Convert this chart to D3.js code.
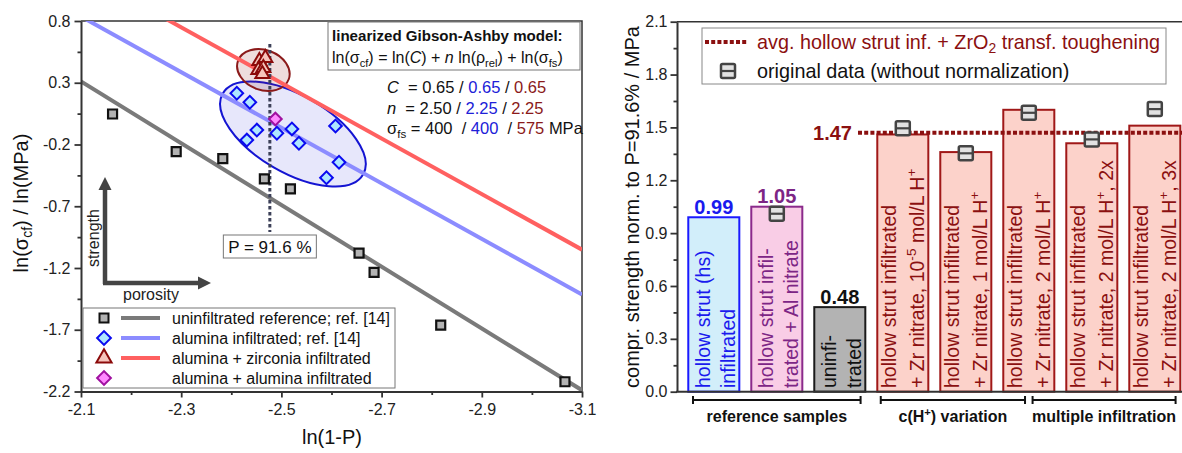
<!DOCTYPE html>
<html>
<head>
<meta charset="utf-8">
<script src="https://cdn.jsdelivr.net/npm/d3@7"></script>
<style>
  body { margin: 0; background: #fff; }
  svg { font-family: Arial, "Liberation Sans", sans-serif; }
  text { white-space: pre; }
</style>
</head>
<body>
<svg id="chart" width="1182" height="453"></svg>
<script>
// ---------- left panel: ln(1-P) vs ln(sigma_cf) ----------
var uninfX = [-2.163, -2.290, -2.383, -2.466, -2.518, -2.655, -2.685, -2.818, -3.066];
var uninfY = [0.047, -0.258, -0.315, -0.479, -0.560, -1.079, -1.235, -1.662, -2.121];
var aluX = [-2.411, -2.437, -2.451, -2.431, -2.491, -2.521, -2.535, -2.608, -2.615, -2.590];
var aluY = [0.215, 0.142, -0.083, -0.164, -0.109, -0.074, -0.190, -0.050, -0.344, -0.469];
var zrX = [-2.456, -2.468, -2.454, -2.464, -2.462];
var zrY = [0.476, 0.500, 0.403, 0.419, 0.371];
var alalX = [-2.488];
var alalY = [0.006];

// linearized Gibson-Ashby model parameters (grey / blue / red)
var modelC = [0.65, 0.65, 0.65];
var modelN = [2.50, 2.25, 2.25];
var modelSfs = [400, 400, 575];
var porosity = 0.916;

// cluster ellipses (centre in data units): alumina, zirconia
var ellCx = [-2.523, -2.464];
var ellCy = [-0.115, 0.403];

var legendNames = ['uninfiltrated reference; ref. [14]', 'alumina infiltrated; ref. [14]',
                   'alumina + zirconia infiltrated', 'alumina + alumina infiltrated'];

var xMajorL = [-2.1, -2.3, -2.5, -2.7, -2.9, -3.1];
var xMinorL = [-2.2, -2.4, -2.6, -2.8, -3.0];
var yMajorL = [0.8, 0.3, -0.2, -0.7, -1.2, -1.7, -2.2];
var yMinorL = [0.55, 0.05, -0.45, -0.95, -1.45, -1.95];

// ---------- right panel: normalized strength ----------
var barLine1 = ['hollow strut (hs)', 'hollow strut infil-', 'uninfi-',
  'hollow strut infiltrated', 'hollow strut infiltrated', 'hollow strut infiltrated',
  'hollow strut infiltrated', 'hollow strut infiltrated'];
var barLine2 = ['infiltrated', 'trated + Al nitrate', 'trated',
  '+ Zr nitrate, 10^{-5} mol/L H^{+}', '+ Zr nitrate, 1 mol/L H^{+}', '+ Zr nitrate, 2 mol/L H^{+}',
  '+ Zr nitrate, 2 mol/L H^{+}, 2x', '+ Zr nitrate, 2 mol/L H^{+}, 3x'];
var barValues = [0.99, 1.05, 0.48, 1.46, 1.36, 1.60, 1.41, 1.51];
var barValueShown = [true, true, true, false, false, false, false, false];
var origValues = [null, 1.01, null, 1.495, 1.353, 1.583, 1.432, 1.604];
var avgValue = 1.47;
var yMajorR = [0, 0.3, 0.6, 0.9, 1.2, 1.5, 1.8, 2.1];
var yMinorR = [0.15, 0.45, 0.75, 1.05, 1.35, 1.65, 1.95];
var groupNames = ['reference samples', 'c(H^{+}) variation', 'multiple infiltration'];
var groupFrom = [-0.33, 2.65, 5.06];
var groupTo = [2.33, 4.94, 7.33];

// ---------- styles ----------
var lineColours = ['#7a7a7a', '#8c8cff', '#ff6060'];
var barStroke = ['#1a1aff', '#8b2a8b', '#1a1a1a', '#a01818', '#a01818', '#a01818', '#a01818', '#a01818'];
var barFill = ['#d2eefa', '#f9cde6', '#b3b3b3', '#fcd2ca', '#fcd2ca', '#fcd2ca', '#fcd2ca', '#fcd2ca'];
var barText = ['#1a1aee', '#7d2585', '#111', '#8b1010', '#8b1010', '#8b1010', '#8b1010', '#8b1010'];
var darkRed = '#8b1010';

// text with ^{sup}, _{sub} and *italic*
function rich(t, str, fs) {
  var shift = 0;
  str.split(/(\^\{[^}]*\}|_\{[^}]*\}|\*[^*]*\*)/).filter(s => s.length).forEach(s => {
    var txt = s, size = fs, target = 0, ital = null;
    if (s.startsWith('^{')) { txt = s.slice(2, -1); size = fs * 0.7; target = -fs * 0.38; }
    else if (s.startsWith('_{')) { txt = s.slice(2, -1); size = fs * 0.7; target = fs * 0.22; }
    else if (s.startsWith('*')) { txt = s.slice(1, -1); ital = 'italic'; }
    t.append('tspan').attr('font-size', size).attr('dy', target - shift)
      .attr('font-style', ital).text(txt);
    shift = target;
  });
  return t;
}

function styleAxis(g, fs) {
  g.select('.domain').attr('stroke', '#333').attr('stroke-width', 2);
  g.selectAll('.tick line').attr('stroke', '#333').attr('stroke-width', 1.8);
  g.selectAll('.tick text').attr('font-size', fs).attr('fill', '#222')
    .attr('font-family', 'Arial, "Liberation Sans", sans-serif');
}

var svg = d3.select('#chart');
svg.append('rect').attr('width', 1182).attr('height', 453).attr('fill', '#fff');

// ================= LEFT PANEL =================
var xL = d3.scaleLinear().domain([-2.1, -3.1]).range([81, 582]);
var yL = d3.scaleLinear().domain([-2.2, 0.8]).range([391.5, 21]);
var left = svg.append('g');

left.append('clipPath').attr('id', 'clipL').append('rect')
  .attr('x', 81).attr('y', 21).attr('width', 501).attr('height', 370.5);

// frame top/right
left.append('path').attr('d', `M${xL(-2.1)},${yL(0.8)}H${xL(-3.1)}V${yL(-2.2)}`)
  .attr('fill', 'none').attr('stroke', '#333').attr('stroke-width', 1.5);

// ellipses around clusters
var ellRx = [81, 27], ellRy = [38.5, 20], ellRot = [30, 20];
var ellStroke = ['#1414d2', '#8b1a1a'], ellFill = ['rgba(70,70,225,0.13)', 'rgba(139,26,26,0.15)'];
[0, 1].forEach(i => {
  left.append('ellipse')
    .attr('transform', `translate(${xL(ellCx[i])},${yL(ellCy[i])}) rotate(${ellRot[i]})`)
    .attr('rx', ellRx[i]).attr('ry', ellRy[i])
    .attr('fill', ellFill[i]).attr('stroke', ellStroke[i]).attr('stroke-width', 2);
});

// model lines
var lines = left.append('g').attr('clip-path', 'url(#clipL)');
modelC.forEach((c, i) => {
  var f = x => Math.log(c) + modelN[i] * x + Math.log(modelSfs[i]);
  lines.append('line')
    .attr('x1', xL(-2.1)).attr('y1', yL(f(-2.1)))
    .attr('x2', xL(-3.1)).attr('y2', yL(f(-3.1)))
    .attr('stroke', lineColours[i]).attr('stroke-width', 4);
});

// porosity marker
var xP = Math.log(1 - porosity);
left.append('line')
  .attr('x1', xL(xP)).attr('x2', xL(xP)).attr('y1', 44).attr('y2', 232)
  .attr('stroke', '#3c4058').attr('stroke-width', 3).attr('stroke-dasharray', '3.5,2.5');
left.append('rect').attr('x', xL(xP) - 46.5).attr('y', 235).attr('width', 93).attr('height', 23)
  .attr('fill', '#fff').attr('stroke', '#777').attr('stroke-width', 1);
left.append('text').attr('x', xL(xP)).attr('y', 253).attr('text-anchor', 'middle')
  .attr('font-size', 17).attr('fill', '#111').text('P = 91.6 %');

// symbols
function sym(type, size) {
  return d3.symbol().type(type).size(size)();
}
var pts = left.append('g');
function drawPts(xs, ys, type, size, rot, fill, stroke, sw) {
  pts.selectAll(null).data(xs).enter().append('path')
    .attr('d', sym(type, size))
    .attr('transform', (d, i) => `translate(${xL(d)},${yL(ys[i])}) rotate(${rot})`)
    .attr('fill', fill).attr('stroke', stroke).attr('stroke-width', sw);
}
drawPts(uninfX, uninfY, d3.symbolSquare, 81, 0, '#b3b3b3', '#111', 2.2);
drawPts(aluX, aluY, d3.symbolSquare, 80, 45, '#aee6ff', '#0a0af0', 2);
drawPts(zrX, zrY, d3.symbolTriangle, 85, 0, '#f6c4bc', '#8b0a0a', 2);
drawPts(alalX, alalY, d3.symbolSquare, 80, 45, '#ff88ff', '#a010a0', 2);

// axes
var axB = left.append('g').attr('transform', `translate(0,${yL(-2.2)})`)
  .call(d3.axisBottom(xL).tickValues(xMajorL).tickSize(6).tickSizeOuter(0).tickPadding(6)
    .tickFormat(d => d.toFixed(1)));
styleAxis(axB, 16);
var axBm = left.append('g').attr('transform', `translate(0,${yL(-2.2)})`)
  .call(d3.axisBottom(xL).tickValues(xMinorL).tickSize(3.5).tickFormat(''));
axBm.select('.domain').remove();
styleAxis(axBm, 16);
var axLft = left.append('g').attr('transform', `translate(${xL(-2.1)},0)`)
  .call(d3.axisLeft(yL).tickValues(yMajorL).tickSize(6.5).tickSizeOuter(0).tickPadding(4)
    .tickFormat(d => d.toFixed(1)));
styleAxis(axLft, 16);
var axLm = left.append('g').attr('transform', `translate(${xL(-2.1)},0)`)
  .call(d3.axisLeft(yL).tickValues(yMinorL).tickSize(3.5).tickFormat(''));
axLm.select('.domain').remove();
styleAxis(axLm, 16);

// axis titles
left.append('text').attr('x', 332).attr('y', 444).attr('text-anchor', 'middle')
  .attr('font-size', 20).attr('fill', '#111').text('ln(1-P)');
rich(left.append('text').attr('transform', 'translate(28,203) rotate(-90)')
  .attr('text-anchor', 'middle').attr('font-size', 20).attr('fill', '#111'),
  'ln(σ_{cf}) / ln(MPa)', 20);

// strength / porosity arrows
var arr = left.append('g').attr('fill', '#444').attr('stroke', '#444');
arr.append('path').attr('d', 'M105,284V188M103,283H200').attr('fill', 'none').attr('stroke-width', 4.5);
arr.append('path').attr('d', 'M105,177L98.5,190H111.5Z').attr('stroke', 'none');
arr.append('path').attr('d', 'M211,283L198,276.5V289.5Z').attr('stroke', 'none');
left.append('text').attr('transform', 'translate(99,238) rotate(-90)').attr('text-anchor', 'middle')
  .attr('font-size', 16).attr('fill', '#222').text('strength');
left.append('text').attr('x', 151).attr('y', 300).attr('text-anchor', 'middle')
  .attr('font-size', 16).attr('fill', '#222').text('porosity');

// model box
left.append('rect').attr('x', 328).attr('y', 22).attr('width', 252).attr('height', 48)
  .attr('fill', '#fff').attr('stroke', '#777').attr('stroke-width', 1);
left.append('text').attr('x', 332).attr('y', 41).attr('font-size', 15.1).attr('font-weight', 'bold')
  .attr('fill', '#111').text('linearized Gibson-Ashby model:');
rich(left.append('text').attr('x', 332).attr('y', 63).attr('font-size', 16).attr('fill', '#111'),
  'ln(σ_{cf}) = ln(*C*) + *n* ln(ρ_{rel}) + ln(σ_{fs})', 16);

// parameter lines
var parCol = ['#111', '#2020d8', '#8b1a1a'];
var pfs = 16.5;
function paramLine(y, lead, vals, sep, unit) {
  var t = left.append('text').attr('x', 387).attr('y', y).attr('font-size', pfs).attr('fill', '#111');
  rich(t, lead, pfs);
  vals.forEach((v, i) => {
    t.append('tspan').attr('fill', parCol[i]).attr('dy', i === 0 && lead.indexOf('_{') >= 0 ? -pfs * 0.22 : 0).text(v);
    if (i < 2) t.append('tspan').attr('fill', '#111').text(sep);
  });
  if (unit) t.append('tspan').attr('fill', '#111').text(unit);
}
paramLine(93, '*C*  = ', modelC.map(d => d.toFixed(2)), ' / ');
paramLine(113.5, '*n*  = ', modelN.map(d => d.toFixed(2)), ' / ');
paramLine(134, 'σ_{fs}', modelSfs.map((d, i) => (i === 0 ? ' = ' : '') + d + ' '), ' / ', 'MPa');

// legend
var lg = left.append('g');
lg.append('rect').attr('x', 83).attr('y', 308).attr('width', 312).attr('height', 80)
  .attr('fill', '#fff').attr('stroke', '#777').attr('stroke-width', 1);
var lgSym = [[d3.symbolSquare, 81, 0, '#b3b3b3', '#111'], [d3.symbolSquare, 95, 45, '#aee6ff', '#0a0af0'],
             [d3.symbolTriangle, 100, 0, '#f6c4bc', '#8b0a0a'], [d3.symbolSquare, 95, 45, '#ff88ff', '#a010a0']];
legendNames.forEach((name, i) => {
  var y = 318 + i * 20;
  var s = lgSym[i];
  lg.append('path').attr('d', sym(s[0], s[1])).attr('transform', `translate(104,${y}) rotate(${s[2]})`)
    .attr('fill', s[3]).attr('stroke', s[4]).attr('stroke-width', 2);
  if (i < 3) lg.append('line').attr('x1', 121).attr('x2', 160).attr('y1', y).attr('y2', y)
    .attr('stroke', lineColours[i]).attr('stroke-width', 4);
  lg.append('text').attr('x', 172).attr('y', y + 5.5).attr('font-size', 16).attr('fill', '#111').text(name);
});

// ================= RIGHT PANEL =================
var idx = d3.range(barValues.length);
var xR = d3.scaleBand().domain(idx).range([682.3, 1186.3]).paddingInner(0.19).paddingOuter(0.095);
var xRc = d3.scaleLinear().domain([0, 1]).range([xR(0) + xR.bandwidth() / 2, xR(1) + xR.bandwidth() / 2]);
var yR = d3.scaleLinear().domain([0, 2.1]).range([391.7, 21.7]);
var right = svg.append('g');

right.append('line').attr('x1', 677).attr('x2', 1182).attr('y1', yR(2.1)).attr('y2', yR(2.1))
  .attr('stroke', '#333').attr('stroke-width', 1.5);

// bars
right.selectAll('.bar').data(barValues).enter().append('rect')
  .attr('x', (d, i) => xR(i)).attr('y', d => yR(d))
  .attr('width', xR.bandwidth()).attr('height', d => yR(0) - yR(d))
  .attr('fill', (d, i) => barFill[i]).attr('stroke', (d, i) => barStroke[i]).attr('stroke-width', 2);

// bar labels (rotated)
idx.forEach(i => {
  var cx = xRc(i), fs = 19.5;
  var off1 = i < 3 ? -10.5 : -13.5, off2 = 14;
  right.append('text').attr('transform', `translate(${cx + off1 + fs * 0.36},388) rotate(-90)`)
    .attr('font-size', fs).attr('fill', barText[i]).text(barLine1[i]);
  rich(right.append('text').attr('transform', `translate(${cx + off2 + fs * 0.36},388) rotate(-90)`)
    .attr('font-size', fs).attr('fill', barText[i]), barLine2[i], fs);
});

// value labels
idx.filter(i => barValueShown[i]).forEach(i => {
  right.append('text').attr('x', xRc(i)).attr('y', yR(barValues[i]) - 3.5)
    .attr('text-anchor', 'middle').attr('font-size', 20).attr('font-weight', 'bold')
    .attr('fill', barText[i]).text(barValues[i].toFixed(2));
});

// average line
right.append('line').attr('x1', 858).attr('x2', 1182).attr('y1', yR(avgValue)).attr('y2', yR(avgValue))
  .attr('stroke', darkRed).attr('stroke-width', 4).attr('stroke-dasharray', '4,2.2');
right.append('text').attr('x', 852).attr('y', yR(avgValue) + 7).attr('text-anchor', 'end')
  .attr('font-size', 20).attr('font-weight', 'bold').attr('fill', darkRed).text(avgValue.toFixed(2));

// original data markers
function origMark(g, x, y) {
  g.append('rect').attr('x', x - 7).attr('y', y - 7).attr('width', 14).attr('height', 14).attr('rx', 1.5)
    .attr('fill', '#e2e2e2').attr('stroke', '#444').attr('stroke-width', 2.5);
  g.append('line').attr('x1', x - 7).attr('x2', x + 7).attr('y1', y).attr('y2', y)
    .attr('stroke', '#444').attr('stroke-width', 2.2);
}
origValues.forEach((v, i) => { if (v != null) origMark(right, xRc(i), yR(v)); });

// axes
var axR = right.append('g').attr('transform', 'translate(677,0)')
  .call(d3.axisLeft(yR).tickValues(yMajorR).tickSize(6.5).tickSizeOuter(0).tickPadding(3)
    .tickFormat(d => d.toFixed(1)));
styleAxis(axR, 16);
var axRm = right.append('g').attr('transform', 'translate(677,0)')
  .call(d3.axisLeft(yR).tickValues(yMinorR).tickSize(3.5).tickFormat(''));
axRm.select('.domain').remove();
styleAxis(axRm, 16);
right.append('line').attr('x1', 676).attr('x2', 1182).attr('y1', yR(0)).attr('y2', yR(0))
  .attr('stroke', '#333').attr('stroke-width', 2);

right.append('text').attr('transform', 'translate(639,207) rotate(-90)').attr('text-anchor', 'middle')
  .attr('font-size', 20).attr('fill', '#111').text('compr. strength norm. to P=91.6% / MPa');

// group brackets
groupNames.forEach((name, i) => {
  var x1 = xRc(groupFrom[i]), x2 = xRc(groupTo[i]);
  right.append('path').attr('d', `M${x1},396V404M${x1},400H${x2}M${x2},396V404`)
    .attr('fill', 'none').attr('stroke', '#111').attr('stroke-width', 2);
  rich(right.append('text').attr('x', (x1 + x2) / 2).attr('y', 422).attr('text-anchor', 'middle')
    .attr('font-size', 16).attr('font-weight', 'bold').attr('fill', '#111'), name, 16);
});

// legend
var lr = right.append('g');
lr.append('rect').attr('x', 702).attr('y', 28).attr('width', 464).attr('height', 56)
  .attr('fill', '#fff').attr('stroke', '#888').attr('stroke-width', 1);
lr.append('line').attr('x1', 705).attr('x2', 748).attr('y1', 42).attr('y2', 42)
  .attr('stroke', darkRed).attr('stroke-width', 4).attr('stroke-dasharray', '4,2.2');
rich(lr.append('text').attr('x', 757).attr('y', 48.5).attr('font-size', 19.8).attr('fill', darkRed),
  'avg. hollow strut inf. + ZrO_{2} transf. toughening', 19.8);
origMark(lr, 728, 71);
lr.append('text').attr('x', 757).attr('y', 78).attr('font-size', 19.8).attr('fill', '#111')
  .text('original data (without normalization)');
</script>
</body>
</html>
